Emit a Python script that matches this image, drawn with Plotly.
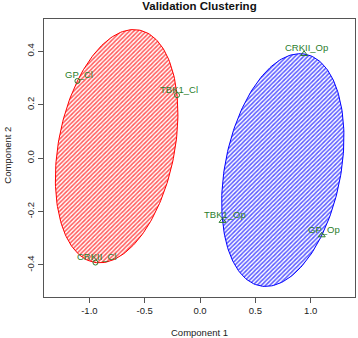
import numpy as np
import plotly.graph_objects as go

# Data
labels_cl = ["GP_Cl", "TBK1_Cl", "CRKII_Cl"]
x_cl = [-1.108, -0.208, -0.945]
y_cl = [0.289, 0.236, -0.391]

labels_op = ["CRKII_Op", "TBK1_Op", "GP_Op"]
x_op = [0.940, 0.203, 1.100]
y_op = [0.390, -0.235, -0.289]

x_ticks = [-1.0, -0.5, 0.0, 0.5, 1.0]
y_ticks = [-0.4, -0.2, 0.0, 0.2, 0.4]

PT_COLOR = "#2b7d2b"
FONT = "Liberation Sans, Arial, sans-serif"


def steiner_ellipse(xs, ys, n=200):
    # Spanning ellipse of 3 points (all on boundary, centred at centroid)
    p = np.array([xs, ys], dtype=float).T
    g = p.mean(axis=0)
    u = p[0] - g
    v = (p[2] - p[1]) / np.sqrt(3)
    t = np.linspace(0, 2 * np.pi, n)
    pts = g[None, :] + np.outer(np.cos(t), u) + np.outer(np.sin(t), v)
    return pts[:, 0], pts[:, 1]


fig = go.Figure()

for xs, ys, col in [(x_cl, y_cl, "#ff0000"), (x_op, y_op, "#0000ff")]:
    ex, ey = steiner_ellipse(xs, ys)
    fig.add_trace(go.Scatter(
        x=ex, y=ey, mode="lines", fill="toself",
        line=dict(color=col, width=1),
        fillcolor="rgba(0,0,0,0)",
        fillpattern=dict(shape="/", size=3, solidity=0.5,
                         fgcolor=col, bgcolor="white", fgopacity=0.65),
        hoverinfo="skip", showlegend=False,
    ))

fig.add_trace(go.Scatter(
    x=x_cl, y=y_cl, mode="markers",
    marker=dict(symbol="circle-open", size=5, color=PT_COLOR, line=dict(width=1)),
    showlegend=False,
))
fig.add_trace(go.Scatter(
    x=x_op, y=y_op, mode="markers",
    marker=dict(symbol="triangle-up-open", size=6, color=PT_COLOR, line=dict(width=1)),
    showlegend=False,
))

for lab, xv, yv in list(zip(labels_cl, x_cl, y_cl)) + list(zip(labels_op, x_op, y_op)):
    fig.add_annotation(x=xv, y=yv, text=lab, showarrow=False,
                       xshift=2, yshift=6, xanchor="center", yanchor="middle",
                       font=dict(family=FONT, size=9.5, color=PT_COLOR))

W, H = 358, 338
L, R, T, B = 44, 3, 19, 41

axis_common = dict(showgrid=False, zeroline=False, showline=True, mirror=True,
                   linecolor="#555555", linewidth=1, ticks="outside", ticklen=5,
                   tickcolor="#555555", tickwidth=1,
                   tickfont=dict(family=FONT, size=9.5, color="#222222"))

fig.update_layout(
    width=W, height=H,
    margin=dict(l=L, r=R, t=T, b=B, autoexpand=False),
    paper_bgcolor="white", plot_bgcolor="white",
    title=dict(text="<b>Validation Clustering</b>", x=(L + (W - R)) / 2 / W,
               xanchor="center", y=1 - 5.5 / H, yanchor="middle",
               font=dict(family=FONT, size=11.5, color="#111111")),
    xaxis=dict(range=[-1.41, 1.40], tickvals=x_ticks,
               ticktext=[f"{v:.1f}" for v in x_ticks], **axis_common),
    yaxis=dict(range=[-0.52, 0.521], tickvals=y_ticks,
               ticktext=[f"{v:.1f}" for v in y_ticks], tickangle=-90,
               **axis_common),
    font=dict(family=FONT),
)

fig.add_annotation(xref="paper", yref="paper", x=0.5, y=-(332 - (H - B)) / (H - T - B),
                   text="Component 1", showarrow=False, xanchor="center", yanchor="middle",
                   font=dict(family=FONT, size=9.5, color="#222222"))
fig.add_annotation(xref="paper", yref="paper", x=-(L - 7.5) / (W - L - R), y=0.51,
                   text="Component 2", showarrow=False, textangle=-90,
                   xanchor="center", yanchor="middle",
                   font=dict(family=FONT, size=9.5, color="#222222"))

fig.write_html("out.html",
               config={"displayModeBar": False},
               post_script="document.body.style.margin='0';document.body.style.padding='0';document.body.style.overflow='hidden';")
